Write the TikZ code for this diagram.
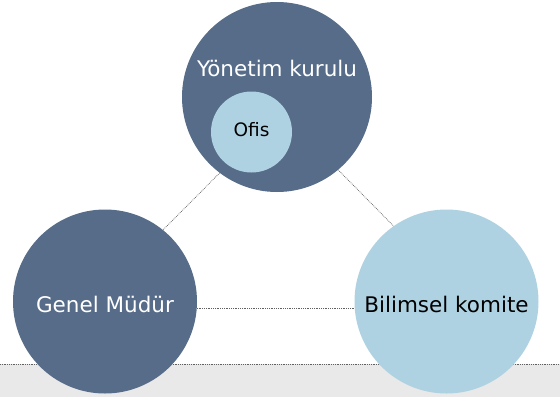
\documentclass[tikz,border=0pt]{standalone}
\usepackage{fontspec}
\setmainfont{DejaVu Sans}
\definecolor{darkc}{HTML}{566C89}
\definecolor{lightc}{HTML}{AED2E2}
\definecolor{bandc}{HTML}{E9E9E9}
\definecolor{dotc}{HTML}{606060}
\begin{document}
\begin{tikzpicture}[x=1pt,y=-1pt,
  bigdark/.style={circle,fill=darkc,inner sep=0pt,outer sep=0pt,minimum size=#1},
  biglight/.style={circle,fill=lightc,inner sep=0pt,outer sep=0pt,minimum size=#1},
  conn/.style={draw=dotc,line width=0.7pt,dash pattern=on 0.8pt off 1pt},
  lab/.style={font=\fontsize{21.5}{25}\selectfont,inner sep=0pt}]
\useasboundingbox (0,0) rectangle (560,397);
\fill[bandc] (0,364) rectangle (560,397);
\coordinate (bl) at (0,364);
\coordinate (br) at (560,364);
\draw[conn] (bl) -- (br);
\node[bigdark=190pt] (top) at (277,97) {};
\node[bigdark=184pt] (gm) at (105,301.5) {};
\node[biglight=184pt] (bk) at (446.5,301.5) {};
\node[biglight=81pt] (ofis) at (251.5,132) {};
\draw[conn] (top.-127.6) -- (gm.51.4);
\draw[conn] (top.-50.2) -- (bk.125.2);
\draw[conn] (gm.-4) -- (bk.184);
\node[lab,text=white] (tyk) at (277,68) {Yönetim kurulu};
\node[lab,text=white] (tgm) at (105,304) {Genel Müdür};
\node[lab,text=black] (tbk) at (446.5,304) {Bilimsel komite};
\node[font=\fontsize{18.5}{22}\selectfont,inner sep=0pt,text=black] (tof) at (251.5,130) {Ofis};
\end{tikzpicture}
\end{document}
